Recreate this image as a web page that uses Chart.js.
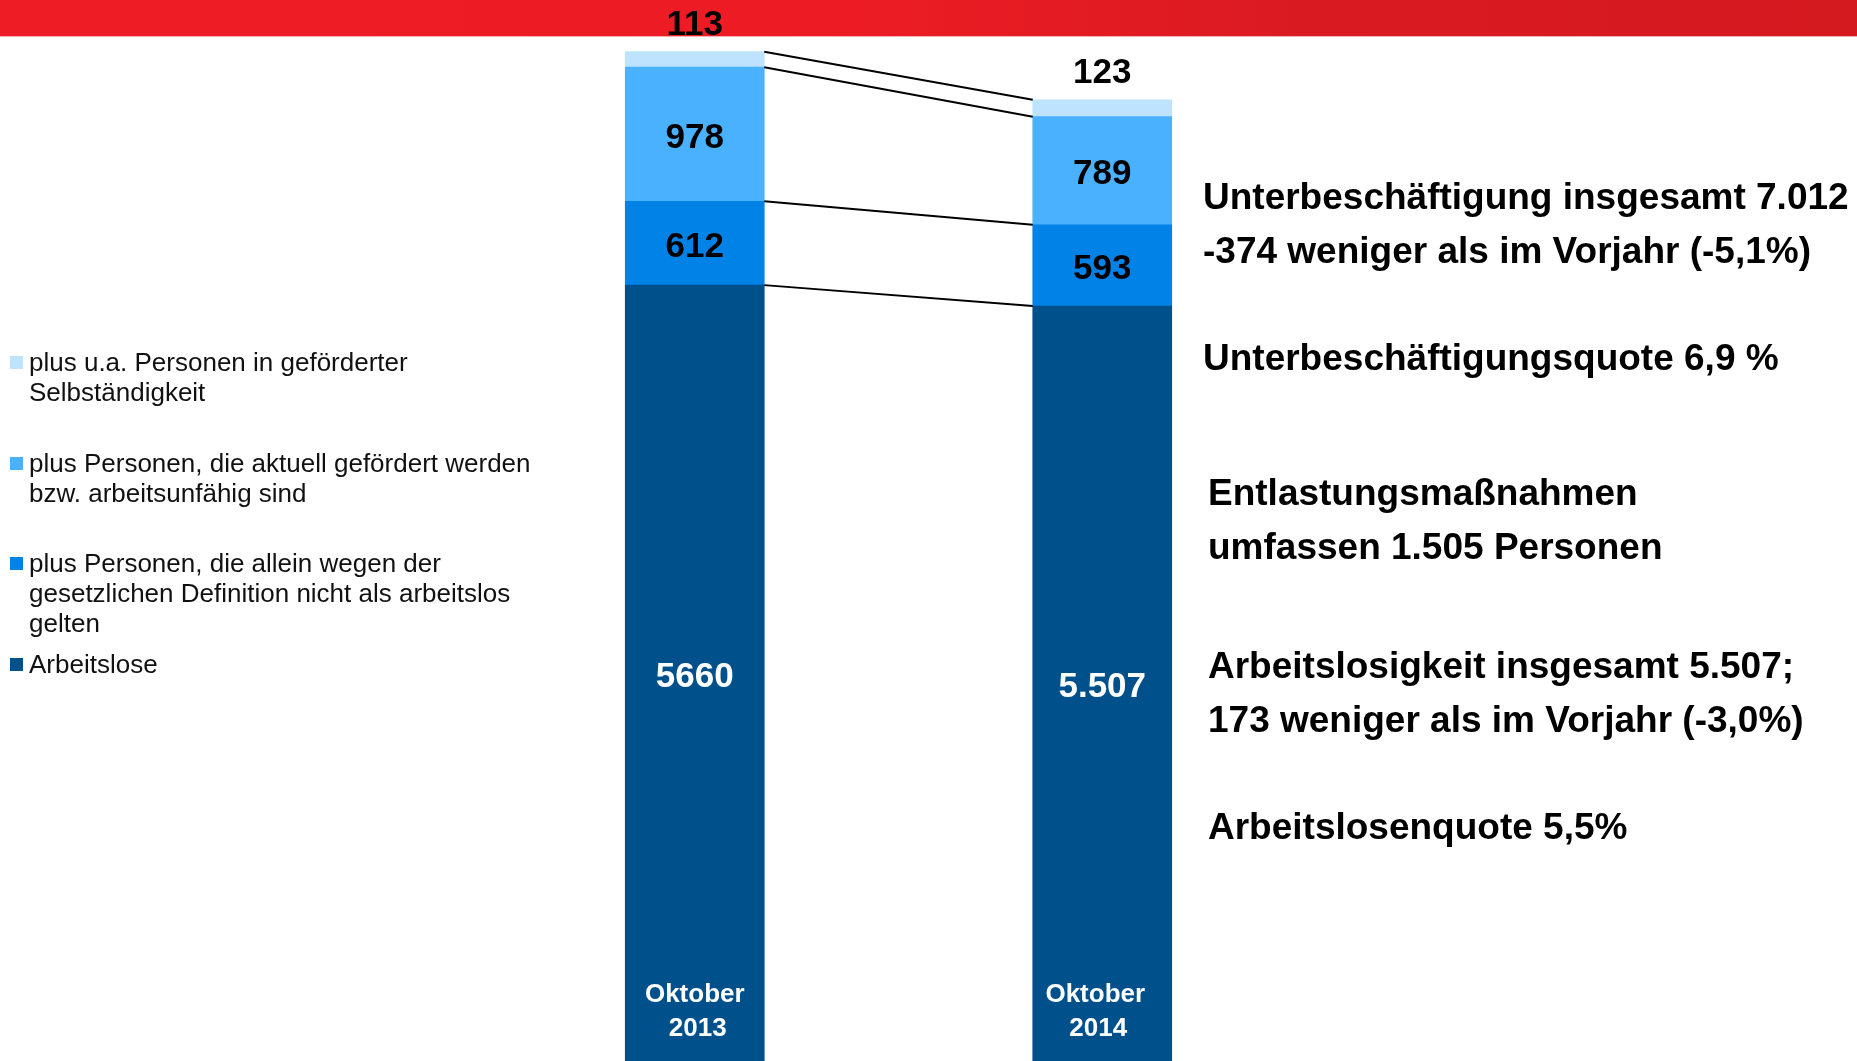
<!DOCTYPE html>
<html lang="de">
<head>
    <meta charset="UTF-8">
    <title>Unterbeschäftigung Oktober 2013 / 2014</title>
    <script src="https://cdn.jsdelivr.net/npm/chart.js"></script>
    <style>
        html, body {
            margin: 0;
            padding: 0;
            background: #fff;
            overflow: hidden;
        }
        body {
            width: 1857px;
            height: 1061px;
            position: relative;
            font-family: "Liberation Sans", Arial, sans-serif;
        }
        .header {
            position: absolute;
            left: 0; top: 0;
            width: 1857px;
            height: 36px;
            background: linear-gradient(90deg, #ee1c25 0%, #ed1c24 45%, #da1a21 70%, #d4191f 100%);
            border-bottom: 1px solid #f3b0b2;
        }
        #wrap {
            position: absolute;
            left: 0; top: 0;
            width: 1857px;
            height: 1061px;
        }
        .legend {
            position: absolute;
            left: 10px;
            font-size: 26px;
            line-height: 30px;
            color: #111;
        }
        .legend .item {
            position: absolute;
            left: 0;
            width: 600px;
        }
        .legend .box {
            position: absolute;
            left: 0;
            top: 9px;
            width: 13px;
            height: 13px;
        }
        .legend .txt {
            margin-left: 19px;
        }
        .note {
            position: absolute;
            font-weight: bold;
            font-size: 37px;
            line-height: 54px;
            color: #000;
            white-space: nowrap;
        }
    </style>
</head>
<body>
    <div class="header"></div>
    <div id="wrap"><canvas id="chart" width="1857" height="1061"></canvas></div>
    <div class="legend" id="legend"></div>

    <div class="note" style="left:1203px; top:170px;">Unterbeschäftigung insgesamt 7.012<br>-374 weniger als im Vorjahr (-5,1%)</div>
    <div class="note" style="left:1203px; top:331px;">Unterbeschäftigungsquote 6,9 %</div>
    <div class="note" style="left:1208px; top:466px;">Entlastungsmaßnahmen<br>umfassen 1.505 Personen</div>
    <div class="note" style="left:1208px; top:639px;">Arbeitslosigkeit insgesamt 5.507;<br>173 weniger als im Vorjahr (-3,0%)</div>
    <div class="note" style="left:1208px; top:800px;">Arbeitslosenquote 5,5%</div>

    <script>
        // Kategorien
        const months = [["Oktober", "2013"], ["Oktober", "2014"]];

        // Werte in Tausend
        const arbeitslose = [5660, 5507];
        const definition = [612, 593];
        const gefoerdert = [978, 789];
        const selbstaendig = [113, 123];

        // Beschriftungen wie im Original
        const arbeitsloseText = ["5660", "5.507"];
        const definitionText = ["612", "593"];
        const gefoerdertText = ["978", "789"];
        const selbstaendigText = ["113", "123"];

        const legendLabels = [
            "plus u.a. Personen in geförderter<br>Selbständigkeit",
            "plus Personen, die aktuell gefördert werden<br>bzw. arbeitsunfähig sind",
            "plus Personen, die allein wegen der<br>gesetzlichen Definition nicht als arbeitslos<br>gelten",
            "Arbeitslose"
        ];

        const colors = ["#00508b", "#0082e6", "#4ab1fe", "#bee3fe"];

        // legend (top item first, like the original)
        const legendTops = [347, 448, 548, 649];
        const legendColors = [colors[3], colors[2], colors[1], colors[0]];
        let legendHtml = "";
        legendLabels.forEach((txt, i) => {
            legendHtml += '<div class="item" style="top:' + legendTops[i] + 'px">' +
                '<div class="box" style="background:' + legendColors[i] + '"></div>' +
                '<div class="txt">' + txt + '</div></div>';
        });
        document.getElementById("legend").innerHTML = legendHtml;

        // labels in bars, connector lines, category names
        const overlay = {
            id: "overlay",
            afterDatasetsDraw(chart) {
                const ctx = chart.ctx;
                const texts = [arbeitsloseText, definitionText, gefoerdertText, selbstaendigText];
                const textColors = ["#fff", "#000", "#000", "#000"];

                // connector lines between the bars
                ctx.save();
                ctx.strokeStyle = "#000";
                ctx.lineWidth = 2;
                for (let d = 0; d < 4; d++) {
                    const m = chart.getDatasetMeta(d);
                    const a = m.data[0], b = m.data[1];
                    ctx.beginPath();
                    ctx.moveTo(a.x + a.width / 2, a.y);
                    ctx.lineTo(b.x - b.width / 2, b.y);
                    ctx.stroke();
                }
                ctx.restore();

                ctx.save();
                ctx.font = "bold 35px 'Liberation Sans', Arial, sans-serif";
                ctx.textAlign = "center";
                ctx.textBaseline = "middle";
                for (let d = 0; d < 4; d++) {
                    const m = chart.getDatasetMeta(d);
                    m.data.forEach((bar, i) => {
                        ctx.fillStyle = textColors[d];
                        if (d === 3) {
                            ctx.fillText(texts[d][i], bar.x, bar.y - 26);
                        } else {
                            ctx.fillText(texts[d][i], bar.x, (bar.y + Math.min(bar.base, chart.chartArea.bottom)) / 2 + 4);
                        }
                    });
                }

                // category names inside the bottom of the bars
                ctx.font = "bold 26px 'Liberation Sans', Arial, sans-serif";
                ctx.fillStyle = "#fff";
                const xs = chart.scales.x;
                const shift = [0, -7];
                months.forEach((lines, i) => {
                    const x = xs.getPixelForValue(i) + shift[i];
                    ctx.fillText(lines[0], x, 995);
                    ctx.fillText(lines[1], x + 3, 1029);
                });
                ctx.restore();
            }
        };

        new Chart(document.getElementById("chart"), {
            type: "bar",
            data: {
                labels: months,
                datasets: [
                    { label: "Arbeitslose", data: arbeitslose, backgroundColor: colors[0] },
                    { label: "gesetzliche Definition", data: definition, backgroundColor: colors[1] },
                    { label: "aktuell gefördert / arbeitsunfähig", data: gefoerdert, backgroundColor: colors[2] },
                    { label: "geförderte Selbständigkeit", data: selbstaendig, backgroundColor: colors[3] }
                ]
            },
            options: {
                responsive: false,
                animation: false,
                layout: { padding: { left: 491, right: 551, top: 0, bottom: 0 } },
                datasets: { bar: { barThickness: 139, borderWidth: 0 } },
                scales: {
                    x: { stacked: true, display: false },
                    y: { stacked: true, display: false, min: 0, max: 7740 }
                },
                plugins: {
                    legend: { display: false },
                    tooltip: { enabled: false }
                }
            },
            plugins: [overlay]
        });
    </script>
</body>
</html>
